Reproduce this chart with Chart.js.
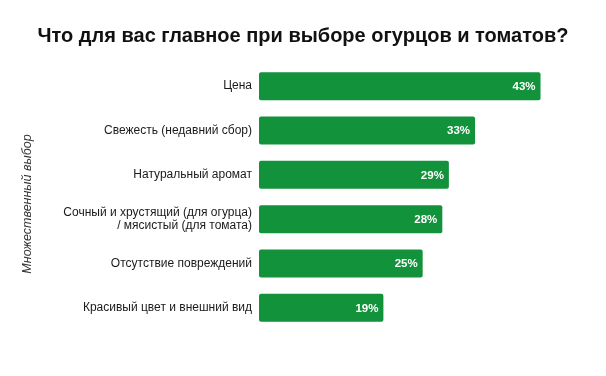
<!DOCTYPE html>
<html>
<head>
<meta charset="utf-8">
<script src="https://cdn.jsdelivr.net/npm/chart.js@4.4.1/dist/chart.umd.min.js"></script>
<style>
html,body{margin:0;padding:0;background:#fff;}
#wrap{width:606px;height:376px;position:relative;}
</style>
</head>
<body>
<div id="wrap"><canvas id="c" width="606" height="376"></canvas></div>
<script>
const titleText = "Что для вас главное при выборе огурцов и томатов?";
const axisTitle = "Множественный выбор";
const categories = [
  "Цена",
  "Свежесть (недавний сбор)",
  "Натуральный аромат",
  ["Сочный и хрустящий (для огурца)", "/ мясистый (для томата)"],
  "Отсутствие повреждений",
  "Красивый цвет и внешний вид"
];
const values = [43, 33, 29, 28, 25, 19];
const valueLabels = ["43%", "33%", "29%", "28%", "25%", "19%"];

const FONT = "Arial, 'Liberation Sans', sans-serif";
const GREEN = "#12923a";

const valueLabelPlugin = {
  id: "valueLabels",
  afterDatasetsDraw(chart) {
    const ctx = chart.ctx;
    const meta = chart.getDatasetMeta(0);
    ctx.save();
    ctx.fillStyle = "#ffffff";
    ctx.font = "bold 11.5px " + FONT;
    ctx.textAlign = "right";
    ctx.textBaseline = "middle";
    meta.data.forEach((bar, i) => {
      ctx.fillText(valueLabels[i], bar.x - 5, bar.y + 0.5);
    });
    ctx.restore();
  }
};

const axisTitlePlugin = {
  id: "axisTitle",
  afterDraw(chart) {
    const ctx = chart.ctx;
    const area = chart.chartArea;
    ctx.save();
    ctx.translate(27.5, (area.top + area.bottom) / 2 + 7);
    ctx.rotate(-Math.PI / 2);
    ctx.fillStyle = "#333333";
    ctx.font = "italic 12.5px " + FONT;
    ctx.textAlign = "center";
    ctx.textBaseline = "middle";
    ctx.fillText(axisTitle, 0, 0);
    ctx.restore();
  }
};

new Chart(document.getElementById("c"), {
  type: "bar",
  data: {
    labels: categories,
    datasets: [{
      data: values,
      backgroundColor: GREEN,
      borderWidth: 0,
      borderRadius: 2,
      borderSkipped: false,
      barPercentage: 0.63,
      categoryPercentage: 1
    }]
  },
  options: {
    indexAxis: "y",
    responsive: false,
    animation: false,
    devicePixelRatio: 1,
    layout: { padding: { left: 0, right: 0, top: 0, bottom: 46 } },
    plugins: {
      legend: { display: false },
      tooltip: { enabled: false },
      title: {
        display: true,
        text: titleText,
        color: "#111111",
        font: { family: FONT, size: 20, weight: "bold", lineHeight: 1.2 },
        padding: { top: 24, bottom: 16 }
      }
    },
    scales: {
      x: {
        display: false,
        min: 0,
        max: 53
      },
      y: {
        afterFit(scale) { scale.width = 259; },
        grid: { display: false, drawTicks: false },
        border: { display: false },
        ticks: {
          color: "#1a1a1a",
          padding: 7,
          font: { family: FONT, size: 12, lineHeight: 1.1 }
        }
      }
    }
  },
  plugins: [valueLabelPlugin, axisTitlePlugin]
});
</script>
</body>
</html>
